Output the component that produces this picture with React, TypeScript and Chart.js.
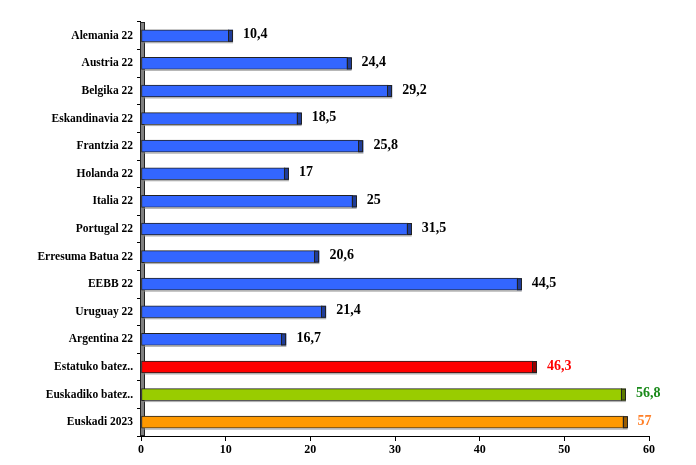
import { useEffect, useRef } from 'react';
import { Chart, registerables } from 'chart.js';

Chart.register(...registerables);

const categories = [
  'Alemania 22',
  'Austria 22',
  'Belgika 22',
  'Eskandinavia 22',
  'Frantzia 22',
  'Holanda 22',
  'Italia 22',
  'Portugal 22',
  'Erresuma Batua 22',
  'EEBB 22',
  'Uruguay 22',
  'Argentina 22',
  'Estatuko batez..',
  'Euskadiko batez..',
  'Euskadi 2023',
];

const values = [10.4, 24.4, 29.2, 18.5, 25.8, 17, 25, 31.5, 20.6, 44.5, 21.4, 16.7, 46.3, 56.8, 57];

const valueLabels = ['10,4', '24,4', '29,2', '18,5', '25,8', '17', '25', '31,5', '20,6', '44,5', '21,4', '16,7', '46,3', '56,8', '57'];

const BLUE = '#3366ff';
const BLUE_CAP = '#1f3d99';
const barColors = [BLUE, BLUE, BLUE, BLUE, BLUE, BLUE, BLUE, BLUE, BLUE, BLUE, BLUE, BLUE, '#ff0000', '#99cc00', '#ff9900'];
const capColors = [BLUE_CAP, BLUE_CAP, BLUE_CAP, BLUE_CAP, BLUE_CAP, BLUE_CAP, BLUE_CAP, BLUE_CAP, BLUE_CAP, BLUE_CAP, BLUE_CAP, BLUE_CAP, '#990000', '#5c7a00', '#995c00'];
const labelColors = ['#000', '#000', '#000', '#000', '#000', '#000', '#000', '#000', '#000', '#000', '#000', '#000', '#ff0000', '#1a8a1a', '#ff7f27'];

const xMin = 0;
const xMax = 60;
const xStep = 10;

const FONT_FAMILY = "'Liberation Serif', 'Times New Roman', serif";

const decoPlugin = {
  id: 'deco',
  beforeDatasetsDraw(chart: any) {
    const { ctx, chartArea, scales } = chart;
    const x0 = Math.round(scales.x.getPixelForValue(0));
    ctx.save();
    ctx.fillStyle = '#808080';
    ctx.fillRect(x0 - 1, chartArea.top, 5, chartArea.bottom - chartArea.top);
    ctx.strokeStyle = '#222';
    ctx.lineWidth = 1;
    ctx.strokeRect(x0 - 0.5, chartArea.top + 0.5, 4, chartArea.bottom - chartArea.top - 1);
    ctx.restore();
  },
  afterDatasetsDraw(chart: any) {
    const { ctx } = chart;
    const meta = chart.getDatasetMeta(0);
    ctx.save();
    meta.data.forEach((el: any, i: number) => {
      const p = el.getProps(['x', 'y', 'base', 'height'], true);
      const top = p.y - p.height / 2;
      const h = p.height;
      // floor shadow
      ctx.fillStyle = '#b0b0b0';
      ctx.fillRect(p.base + 3, top + h, p.x - p.base + 1, 1.5);
      // end cap
      ctx.fillStyle = capColors[i];
      ctx.fillRect(p.x - 1, top, 5, h);
      ctx.strokeStyle = '#222';
      ctx.lineWidth = 1;
      ctx.strokeRect(Math.round(p.x) - 0.5, top + 0.5, 4, h - 1);
      // value label
      ctx.fillStyle = labelColors[i];
      ctx.font = `bold 14px ${FONT_FAMILY}`;
      ctx.textAlign = 'left';
      ctx.textBaseline = 'middle';
      ctx.fillText(valueLabels[i], p.x + 14, p.y - 1);
    });
    ctx.restore();
  },
};

export default function App() {
  const ref = useRef<HTMLCanvasElement | null>(null);

  useEffect(() => {
    if (!ref.current) return;
    const chart = new Chart(ref.current, {
      type: 'bar',
      data: {
        labels: categories,
        datasets: [
          {
            data: values,
            backgroundColor: barColors,
            borderColor: '#222',
            borderWidth: 1,
            borderSkipped: false,
            barThickness: 12,
          },
        ],
      },
      options: {
        indexAxis: 'y',
        animation: false,
        responsive: false,
        layout: { padding: { top: 22, right: 47, bottom: 0, left: 0 } },
        plugins: {
          legend: { display: false },
          tooltip: { enabled: false },
        },
        scales: {
          x: {
            min: xMin,
            max: xMax,
            ticks: {
              stepSize: xStep,
              color: '#000',
              padding: 2,
              font: { family: FONT_FAMILY, size: 12, weight: 'bold' },
            },
            grid: {
              drawOnChartArea: false,
              drawTicks: true,
              tickLength: 5,
              color: '#000',
            },
            border: { display: true, color: '#000', width: 1 },
            afterFit: (scale: any) => {
              scale.height = 29;
            },
          },
          y: {
            ticks: {
              color: '#000',
              padding: 4,
              autoSkip: false,
              font: { family: FONT_FAMILY, size: 11.5, weight: 'bold' },
            },
            grid: {
              drawOnChartArea: false,
              drawTicks: true,
              tickLength: 4,
              offset: true,
              color: '#000',
            },
            border: { display: true, color: '#000', width: 1 },
            afterFit: (scale: any) => {
              scale.width = 141;
            },
          },
        },
      },
      plugins: [decoPlugin],
    } as any);
    return () => chart.destroy();
  }, []);

  return (
    <div style={{ position: 'absolute', left: 0, top: 0, width: 696, height: 465, background: '#fff' }}>
      <canvas ref={ref} width={696} height={465} />
    </div>
  );
}
